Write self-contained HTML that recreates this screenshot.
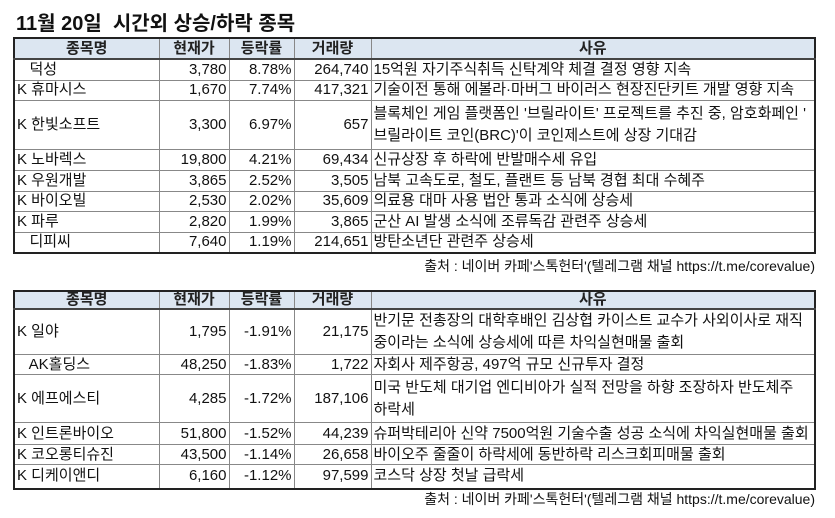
<!DOCTYPE html>
<html><head><meta charset="utf-8"><style>
body{margin:0;width:835px;height:518px;background:#fff;font-family:"Liberation Sans","Noto Sans CJK KR","NanumGothic",sans-serif;color:#111;position:relative;overflow:hidden}
.title{position:absolute;left:16px;top:7px;font-size:20px;font-weight:bold}
table{position:absolute;left:13px;border-collapse:collapse;table-layout:fixed;border:2px solid #222;font-size:15px}
td,th{border:1px solid #888;padding:0 2px;white-space:nowrap;overflow:hidden;line-height:16px}
th{background:#dce6f1;font-weight:bold;text-align:center;border-bottom:2px solid #444;color:#222}
td.n{text-align:right}
td.r{line-height:22px}
.src{position:absolute;right:20px;font-size:14px}
</style></head><body>
<div class="title">11월 20일&nbsp; 시간외 상승/하락 종목</div>
<table style="top:37px;width:803px">
<colgroup><col style="width:145px"><col style="width:70px"><col style="width:65px"><col style="width:77px"><col></colgroup>
<tr style="height:21px"><th>종목명</th><th>현재가</th><th>등락률</th><th>거래량</th><th>사유</th></tr>
<tr style="height:21px"><td>&nbsp;&nbsp; 덕성</td><td class="n">3,780</td><td class="n">8.78%</td><td class="n">264,740</td><td>15억원 자기주식취득 신탁계약 체결 결정 영향 지속</td></tr>
<tr style="height:20px"><td>K 휴마시스</td><td class="n">1,670</td><td class="n">7.74%</td><td class="n">417,321</td><td>기술이전 통해 에볼라·마버그 바이러스 현장진단키트 개발 영향 지속</td></tr>
<tr style="height:49px"><td>K 한빛소프트</td><td class="n">3,300</td><td class="n">6.97%</td><td class="n">657</td><td class="r">블록체인 게임 플랫폼인 '브릴라이트' 프로젝트를 추진 중, 암호화페인 '<br>브릴라이트 코인(BRC)'이 코인제스트에 상장 기대감</td></tr>
<tr style="height:21px"><td>K 노바렉스</td><td class="n">19,800</td><td class="n">4.21%</td><td class="n">69,434</td><td>신규상장 후 하락에 반발매수세 유입</td></tr>
<tr style="height:21px"><td>K 우원개발</td><td class="n">3,865</td><td class="n">2.52%</td><td class="n">3,505</td><td>남북 고속도로, 철도, 플랜트 등 남북 경협 최대 수혜주</td></tr>
<tr style="height:20px"><td>K 바이오빌</td><td class="n">2,530</td><td class="n">2.02%</td><td class="n">35,609</td><td>의료용 대마 사용 법안 통과 소식에 상승세</td></tr>
<tr style="height:21px"><td>K 파루</td><td class="n">2,820</td><td class="n">1.99%</td><td class="n">3,865</td><td>군산 AI 발생 소식에 조류독감 관련주 상승세</td></tr>
<tr style="height:21px"><td>&nbsp;&nbsp; 디피씨</td><td class="n">7,640</td><td class="n">1.19%</td><td class="n">214,651</td><td>방탄소년단 관련주 상승세</td></tr>
</table>
<div class="src" style="top:256px">출처 : 네이버 카페'스톡헌터'(텔레그램 채널 https://t.me/corevalue)</div>
<table style="top:290px;width:803px">
<colgroup><col style="width:145px"><col style="width:70px"><col style="width:65px"><col style="width:77px"><col></colgroup>
<tr style="height:17px"><th>종목명</th><th>현재가</th><th>등락률</th><th>거래량</th><th>사유</th></tr>
<tr style="height:45px"><td>K 일야</td><td class="n">1,795</td><td class="n">-1.91%</td><td class="n">21,175</td><td class="r">반기문 전총장의 대학후배인 김상협 카이스트 교수가 사외이사로 재직<br>중이라는 소식에 상승세에 따른 차익실현매물 출회</td></tr>
<tr style="height:20px"><td>&nbsp;&nbsp; AK홀딩스</td><td class="n">48,250</td><td class="n">-1.83%</td><td class="n">1,722</td><td>자회사 제주항공, 497억 규모 신규투자 결정</td></tr>
<tr style="height:48px"><td>K 에프에스티</td><td class="n">4,285</td><td class="n">-1.72%</td><td class="n">187,106</td><td class="r">미국 반도체 대기업 엔디비아가 실적 전망을 하향 조장하자 반도체주<br>하락세</td></tr>
<tr style="height:22px"><td>K 인트론바이오</td><td class="n">51,800</td><td class="n">-1.52%</td><td class="n">44,239</td><td>슈퍼박테리아 신약 7500억원 기술수출 성공 소식에 차익실현매물 출회</td></tr>
<tr style="height:20px"><td>K 코오롱티슈진</td><td class="n">43,500</td><td class="n">-1.14%</td><td class="n">26,658</td><td>바이오주 줄줄이 하락세에 동반하락 리스크회피매물 출회</td></tr>
<tr style="height:24px"><td>K 디케이앤디</td><td class="n">6,160</td><td class="n">-1.12%</td><td class="n">97,599</td><td>코스닥 상장 첫날 급락세</td></tr>
</table>
<div class="src" style="top:489px">출처 : 네이버 카페'스톡헌터'(텔레그램 채널 https://t.me/corevalue)</div>
</body></html>
